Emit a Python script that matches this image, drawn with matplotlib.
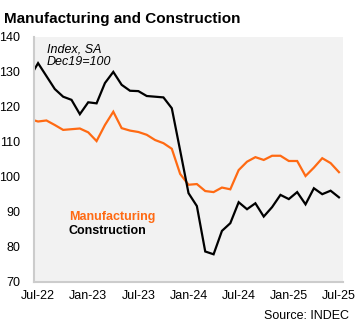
import matplotlib.pyplot as plt

plt.rcParams['font.family'] = ['Liberation Sans', 'DejaVu Sans']

# monthly index, Jun-22 .. Jul-25 (Jun-22 is cut off by the left edge)
months = list(range(-1, 37))
manufacturing = [116.5, 115.8, 116.1, 114.8, 113.4, 113.6, 113.8, 112.7, 110.2,
                 114.8, 118.6, 113.9, 113.2, 112.8, 112.0, 110.5, 109.6, 108.0,
                 100.8, 97.7, 97.9, 95.9, 95.6, 96.9, 96.4, 101.9, 104.3, 105.6,
                 104.8, 106.0, 106.0, 104.5, 104.5, 100.2, 102.6, 105.3, 103.9,
                 101.3]
construction = [128.4, 132.5, 128.8, 125.1, 122.9, 122.0, 117.9, 121.3, 121.0,
                126.8, 130.0, 126.3, 124.6, 124.5, 123.1, 122.9, 122.7, 119.6,
                107.5, 95.3, 91.6, 78.6, 77.8, 84.5, 86.7, 92.7, 90.7, 92.4,
                88.6, 91.3, 94.8, 93.6, 95.6, 92.1, 96.7, 95.0, 96.0, 94.1]

tick_pos = [0, 6, 12, 18, 24, 30, 36]
tick_labels = ['Jul-22', 'Jan-23', 'Jul-23', 'Jan-24', 'Jul-24', 'Jan-25', 'Jul-25']

orange = '#ff6a13'

fig = plt.figure(figsize=(3.6, 3.27), dpi=100)
ax = fig.add_axes([0.0953, 0.139, 0.8567, 0.748])
ax.set_facecolor('#f2f2f2')

ax.plot(months, manufacturing, color=orange, lw=1.6, solid_joinstyle='miter')
ax.plot(months, construction, color='black', lw=1.6, solid_joinstyle='miter')

ax.set_xlim(-0.45, 36.45)
ax.set_ylim(70, 140)
ax.set_yticks(range(70, 141, 10))
ax.set_xticks(tick_pos)
ax.set_xticklabels(tick_labels)
ax.tick_params(length=0, labelsize=9, colors='black')
ax.tick_params(axis='y', pad=10)
ax.tick_params(axis='x', pad=6)

for s in ['top', 'right']:
    ax.spines[s].set_visible(False)
for s in ['left', 'bottom']:
    ax.spines[s].set_color('#cccccc')
    ax.spines[s].set_linewidth(1.5)

ax.text(0.04, 0.975, 'Index, SA\nDec19=100', transform=ax.transAxes,
        fontsize=9, style='italic', va='top', ha='left', linespacing=1.15)
ax.text(0.112, 0.262, 'Manufacturing', transform=ax.transAxes,
        fontsize=9, fontweight='bold', color=orange, va='center')
ax.text(0.112, 0.207, 'Construction', transform=ax.transAxes,
        fontsize=9, fontweight='bold', color='black', va='center')

fig.text(0.011, 0.963, 'Manufacturing and Construction', fontsize=11,
         fontweight='bold', va='top', ha='left')
fig.text(0.97, 0.034, 'Source: INDEC', fontsize=9, ha='right', va='center')

fig.savefig('out.png', dpi=100)
